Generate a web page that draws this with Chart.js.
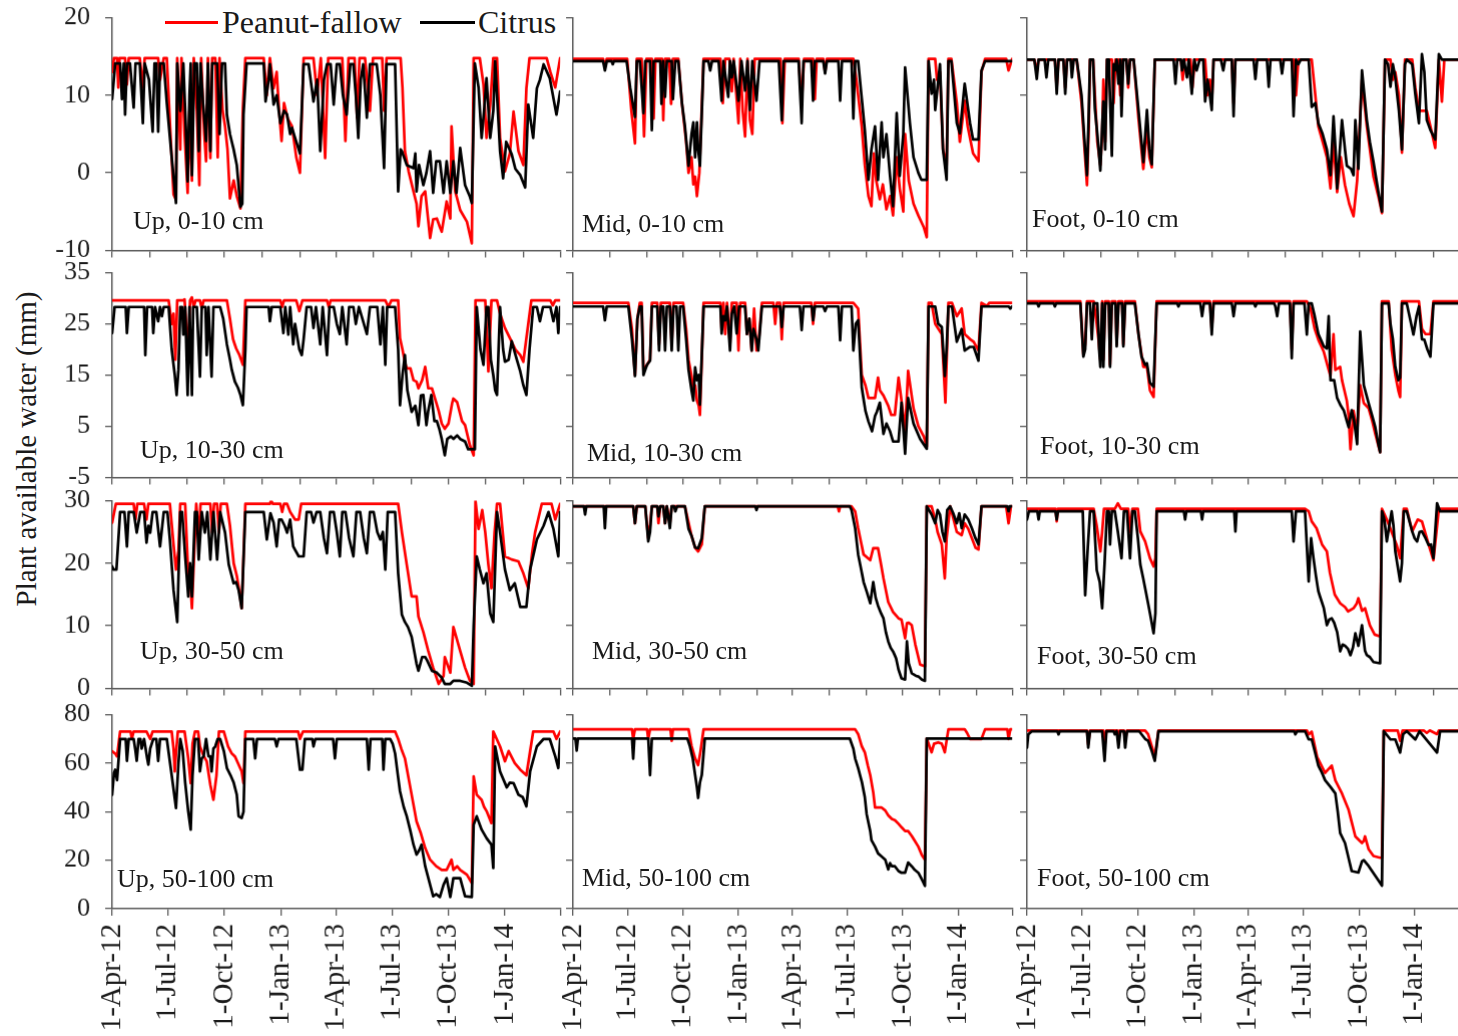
<!DOCTYPE html>
<html lang="en">
<head>
<meta charset="UTF-8">
<title>Plant available water</title>
<script src="https://cdn.jsdelivr.net/npm/chart.js@4.4.1/dist/chart.umd.min.js"></script>
<style>
  html, body { margin: 0; padding: 0; background: #fff; width: 1458px; height: 1036px; overflow: hidden; }
  body { position: relative; font-family: 'Liberation Serif', 'Times New Roman', serif; color: #1a1a1a; }
  canvas { position: absolute; }
  .lbl { position: absolute; font-size: 26px; line-height: 1; white-space: nowrap; }
  .leg { position: absolute; font-size: 32px; line-height: 1; white-space: nowrap; }
  .swatch { position: absolute; height: 3px; }
  .ytitle { position: absolute; left: 26px; top: 449px; font-size: 29px; line-height: 1; white-space: nowrap;
            transform: translate(-50%, -50%) rotate(-90deg); }
</style>
</head>
<body>
<div class="ytitle">Plant available water (mm)</div>
<div class="swatch" style="left:165px; top:21px; width:53px; background:#ff0000;"></div>
<div class="leg" style="left:222px; top:6px;">Peanut-fallow</div>
<div class="swatch" style="left:420px; top:21px; width:55px; background:#000;"></div>
<div class="leg" style="left:478px; top:6px;">Citrus</div>
<script>
// x values are days since 1-Apr-12
const bimonthDays = [0, 61, 122, 183, 244, 306, 365, 426, 487, 548, 609, 671, 730];
const quarterDays = [0, 91, 183, 275, 365, 456, 548, 640, 730];
const quarterLabels = ['1-Apr-12', '1-Jul-12', '1-Oct-12', '1-Jan-13', '1-Apr-13', '1-Jul-13', '1-Oct-13', '1-Jan-14', ''];

const yTicks = [[-10, 0, 10, 20], [-5, 5, 15, 25, 35], [0, 10, 20, 30], [0, 20, 40, 60, 80]];

const panelLabels = [
  ['Up, 0-10 cm', 'Mid, 0-10 cm', 'Foot, 0-10 cm'],
  ['Up, 10-30 cm', 'Mid, 10-30 cm', 'Foot, 10-30 cm'],
  ['Up, 30-50 cm', 'Mid, 30-50 cm', 'Foot, 30-50 cm'],
  ['Up, 50-100 cm', 'Mid, 50-100 cm', 'Foot, 50-100 cm']
];

// ---- 0-10 cm ----
const upPeanut010 = [[0,13],[3,14.8],[8,14.8],[10,11],[12,14.8],[21,14.8],[24,11.4],[27,14.8],[45,14.8],[50,11],[53,14.8],[75,14.8],[78,12],[84,14.8],[89,14.8],[95,5],[100,-2.8],[104,-3.5],[106,14.8],[111,3],[113,14.8],[118,5],[123,-2.6],[126,8],[130,-1],[133,14.8],[138,8],[142,-1.6],[145,14.8],[150,5],[153,1.5],[156,14.8],[160,1.9],[163,14.8],[168,14.8],[172,2],[175,14.8],[180,8],[184,6],[188,3],[192,-3.3],[198,-1],[203,-3],[209,-4.6],[213,8.4],[217,14.8],[247,14.8],[252,10],[257,14.8],[263,10.9],[268,13],[272,8],[276,4.1],[280,9],[286,7],[293,6],[300,2],[306,0],[312,14.8],[328,14.8],[334,10],[340,14.8],[347,1.9],[352,14.8],[375,14.8],[380,4.1],[385,14.8],[395,14.8],[399,7.1],[403,14.8],[412,14.8],[420,8],[425,14.8],[440,14.8],[443,8],[447,14.8],[470,14.8],[473,11],[477,2.8],[483,0.2],[491,-2.4],[496,-4],[499,-6.9],[504,-3],[510,-2.4],[518,-8.4],[523,-6],[529,-5.9],[534,-7],[537,-7.6],[545,-3.7],[551,-5.9],[553,6],[559,-2.4],[567,-4.8],[578,-6.3],[586,-9.1],[589,14.8],[599,14.8],[605,11.4],[610,4.5],[616,8.8],[621,14.8],[627,14.8],[632,4.5],[640,0.2],[648,2.5],[654,7.9],[662,2.8],[670,1],[675,10.9],[680,14.8],[708,14.8],[714,13],[722,11],[730,14.8]];
const upCitrus010 = [[0,9.5],[5,14.1],[13,14.1],[16,9.5],[19,14.1],[21,7.5],[24,14.1],[29,14.1],[35,8.4],[38,14.1],[45,14.1],[50,6.4],[53,14.1],[60,12],[66,5.3],[69,14.1],[72,14.1],[75,5.3],[78,14.1],[84,14.1],[89,9],[97,2],[104,-3.9],[106,14.1],[111,8],[116,14.1],[120,6],[123,-1.1],[126,10],[128,14.1],[130,-0.3],[134,14.1],[138,14.1],[141,2.8],[144,14.1],[148,9],[153,4.1],[156,14.1],[160,2.8],[163,14.1],[168,14.1],[171,14.1],[175,5],[179,14.1],[184,14.1],[187,7.5],[192,5],[198,3],[203,1],[209,-4.4],[212,-4],[214,7.5],[219,14.1],[247,14.1],[250,9.2],[255,12],[257,14],[263,8.8],[268,10],[274,6.4],[280,8],[285,7.5],[290,5],[293,5.8],[300,4],[306,2.5],[312,14],[320,14],[328,9.2],[334,12],[339,2.8],[345,12],[350,14],[356,14],[361,8.8],[366,14],[371,14],[376,10],[382,7.5],[388,14],[393,14],[397,10],[401,4.5],[405,12],[409,14],[415,7.1],[420,14],[431,14],[437,10],[443,0.6],[447,14],[461,14],[466,-2.4],[470,3],[472,2.8],[480,1],[491,0.6],[494,2.5],[496,-2.4],[500,1],[507,-1.6],[512,0],[518,2.8],[523,-2.6],[528,1.5],[534,1.5],[540,-2.6],[545,1.5],[551,-2.6],[556,1.5],[561,-2.6],[567,3.2],[575,-1.6],[583,-3.1],[586,-3.9],[591,14.1],[597,11],[602,4.5],[606,8],[610,12.2],[616,4.5],[621,8],[624,14.4],[632,2.8],[637,-0.7],[642,4],[651,2.4],[657,0.5],[665,-0.3],[673,-1.9],[678,8.8],[686,4.5],[692,10.9],[697,12],[703,14],[713,12.2],[724,7.5],[730,10.5]];
const midPeanut010 = [[0,14.7],[50,14.7],[53,13.6],[56,14.7],[90,14.7],[97,8],[103,3.8],[106,14.7],[114,14.7],[118,4.7],[122,14.7],[131,14.7],[134,7],[137,14.7],[148,14.7],[150,6.8],[153,14.7],[160,14.7],[163,8.9],[166,14.7],[175,14.7],[181,9],[188,4],[192,0],[197,2],[200,-1.5],[203,-0.5],[206,-3],[210,0],[217,14.7],[245,14.7],[249,9],[253,14.7],[260,14.7],[264,10.5],[267,14.7],[275,6.4],[278,14.7],[282,8],[286,4.7],[290,14.7],[294,6.8],[298,5],[302,14.7],[345,14.7],[348,6.4],[352,14.7],[375,14.7],[380,9],[384,14.7],[399,14.7],[402,9.5],[405,14.7],[416,14.7],[419,13],[422,14.7],[466,14.7],[471,12],[480,6],[485,1],[491,-3],[496,-4.3],[500,2.5],[504,-1],[510,-3.4],[515,-1.5],[521,-4.7],[527,-3],[532,-5.5],[538,2],[543,-2],[549,-5],[552,5],[558,-1],[566,-4],[574,-5.5],[583,-7],[588,-8.3],[591,14.7],[602,14.7],[605,12],[610,13],[615,3],[621,1],[624,14.7],[629,14.7],[638,9],[643,4],[651,9.3],[656,6],[665,2.5],[674,1.5],[679,13],[685,14.7],[720,14.7],[724,13.2],[730,14.7]];
const midCitrus010 = [[0,14.4],[50,14.4],[53,13.2],[56,14.4],[64,14.4],[66,14],[68,14.4],[89,14.4],[95,11],[103,7.2],[106,14.4],[111,14.4],[117,7.7],[120,14.4],[128,14.4],[131,5.5],[134,14.4],[145,14.4],[147,8.9],[150,14.4],[153,9.8],[156,14.4],[164,14.4],[166,9.5],[170,14.4],[175,14.4],[181,9],[186,6],[192,0.9],[197,5],[200,6.5],[203,2],[206,6.5],[208,3],[211,0.9],[217,14.4],[225,14.4],[228,13.2],[231,14.4],[242,14.4],[247,9.3],[250,14.4],[258,9.8],[261,14.4],[264,12.3],[267,14.4],[275,9.3],[280,14.4],[286,10.6],[290,14.4],[294,8.1],[298,14.4],[305,9.3],[310,14.4],[342,14.4],[347,6.8],[350,14.4],[375,14.4],[380,6.4],[383,14.4],[396,14.4],[399,9.3],[402,14.4],[416,14.4],[419,12.8],[422,14.4],[441,14.4],[444,9.3],[447,14.4],[463,14.4],[466,7],[469,14.4],[474,14.4],[485,5.5],[491,-0.9],[496,3],[502,6],[507,-0.9],[513,6.5],[516,2],[521,5],[527,-0.4],[532,-4.3],[538,7.7],[543,-0.4],[549,5],[552,13.6],[560,6.4],[566,2],[574,0],[579,-0.9],[588,-0.9],[591,14.4],[596,10.2],[600,12],[602,8.1],[610,14],[615,3],[621,-0.9],[624,14.4],[629,14.4],[638,6.4],[643,5.1],[651,11.5],[660,6.4],[665,4.3],[674,4.3],[679,13.2],[685,14.4],[730,14.4]];
const footPeanut010 = [[0,14.6],[12,14.6],[16,13],[19,14.6],[46,14.6],[49,11],[52,14.6],[60,14.6],[63,11],[66,14.6],[82,14.6],[90,9],[95,3],[99,-1.6],[102,6],[104,14.6],[109,14.6],[112,10],[116,4],[121,1],[124,5],[126,12],[129,4],[132,14.6],[140,14.6],[143,9],[146,14.6],[151,14.6],[154,10],[157,14.6],[164,14.6],[167,11],[170,14.6],[176,14.6],[184,7],[192,0.5],[198,6],[202,2],[206,0.7],[211,14.6],[254,14.6],[257,12],[260,14.6],[270,14.6],[273,11],[277,14.6],[294,14.6],[298,10],[302,12],[305,9],[308,14.6],[338,14.6],[341,9],[344,14.6],[440,14.6],[444,10],[448,14.6],[470,14.6],[476,10],[481,6],[488,4],[495,2],[501,-2],[506,4],[512,-2.5],[518,2],[525,-1.6],[532,-4],[539,-5.6],[545,-1],[553,12],[561,6],[572,-0.5],[580,-3],[586,-5.2],[591,14.6],[600,14.6],[604,12],[608,13],[614,10],[619,2.6],[624,14.6],[636,14.6],[641,11],[647,8],[660,8],[666,6],[674,3.2],[680,14.6],[685,9.2],[689,14.6],[730,14.6]];
const footCitrus010 = [[0,14.6],[12,14.6],[16,12.1],[19,14.6],[29,14.6],[32,12.3],[35,14.6],[46,14.6],[49,10.2],[52,14.6],[60,14.6],[63,10.2],[66,14.6],[72,14.6],[74,12.3],[77,14.6],[82,14.6],[90,10],[95,4],[99,-0.3],[102,8],[104,14.6],[109,14.6],[112,8.3],[116,5],[121,0.3],[124,6],[126,9.2],[129,3],[132,14.6],[135,14.6],[140,2.2],[143,14],[145,13.2],[148,14.6],[151,11.5],[154,14.6],[156,7.3],[159,14.6],[164,14.6],[167,11.5],[170,14.6],[176,14.6],[184,8.1],[192,1.4],[198,8.1],[202,3],[206,1.1],[211,14.6],[242,14.6],[245,11.5],[248,14.6],[254,14.6],[256,13.2],[259,14.6],[264,12.3],[267,14.6],[272,10.2],[276,14.6],[280,13.2],[285,14.6],[291,14.6],[294,9.2],[298,12],[300,11.1],[305,8.1],[308,14.6],[320,14.6],[324,13.2],[327,14.6],[338,14.6],[341,7.3],[344,14.6],[374,14.6],[377,12.1],[380,14.6],[396,14.6],[399,11.1],[402,14.6],[418,14.6],[421,12.8],[424,14.6],[437,14.6],[440,7.3],[444,14.6],[448,14],[452,14.6],[465,14.6],[470,8.5],[476,9],[481,6.4],[488,5],[495,3],[501,-0.3],[506,7.3],[510,2],[512,-2],[520,6.8],[525,3],[528,0.9],[535,0.5],[539,-0.3],[542,6.8],[547,0.5],[553,13.2],[561,6.8],[566,4],[572,1.4],[580,-2.4],[586,-5],[591,14.6],[596,14],[600,11.1],[604,14],[608,12.3],[614,8],[619,3],[624,14],[627,14.6],[636,14],[641,10.2],[647,6.4],[652,15.3],[656,13],[660,6.8],[666,5.5],[674,4.3],[680,15.3],[685,14.6],[730,14.6]];

// ---- 10-30 cm ----
const upPeanut1030 = [[0,29.6],[92,29.6],[97,25],[100,27],[103,18],[106,29.6],[116,29.6],[118,29.8],[121,24],[124,20.2],[127,29.6],[130,30.2],[133,28.3],[136,29.6],[143,29.6],[146,28],[149,29.6],[187,29.6],[192,26],[197,22],[202,20.2],[207,19],[213,17],[217,29.6],[274,29.6],[277,28.3],[280,29.6],[300,29.6],[305,27.5],[310,29.6],[350,29.6],[353,28.3],[356,29.6],[445,29.6],[450,28.3],[455,29.6],[466,29.6],[469,22.2],[473,20],[477,17.5],[480,16.3],[486,16.3],[491,14],[496,13.7],[499,12.4],[505,14],[510,16.6],[515,12.4],[521,12.4],[526,10.4],[532,8],[537,5.5],[542,4.5],[548,5.5],[554,9.5],[556,10.4],[562,9.7],[570,6],[575,5.2],[583,1.2],[589,-0.7],[592,29.6],[608,29.6],[613,15.7],[618,29.6],[627,29.6],[632,27],[640,24.2],[649,22],[657,20],[665,18.9],[670,17.6],[678,25],[683,29.6],[714,29.6],[718,28.6],[722,29.6],[730,29.6]];
const upCitrus1030 = [[0,23.2],[4,28.3],[22,28.3],[24,23.2],[27,28.3],[52,28.3],[54,18.9],[57,28.3],[65,28.3],[67,23.2],[70,28.3],[75,25.5],[78,28.3],[81,26.5],[84,28.3],[92,28.3],[97,20],[102,15],[105,11.1],[108,16],[111,28.3],[114,28.3],[116,22.9],[119,28.3],[123,11.1],[126,28.3],[130,11.1],[132,28.3],[138,28.3],[143,14.7],[146,28.3],[152,28.3],[154,18.9],[157,28.3],[162,14.7],[165,28.3],[176,28.3],[181,26],[187,21],[192,18],[195,16],[200,13.7],[205,12.5],[209,11.1],[213,9.1],[217,20],[219,28.3],[255,28.3],[257,25.5],[260,28.3],[274,28.3],[279,23.2],[282,28.3],[287,22.9],[290,28.3],[295,21],[298,25],[305,20],[309,18.9],[312,22],[317,28.3],[324,28.3],[328,24.2],[332,28.3],[339,21],[343,28.3],[350,18.9],[354,28.3],[361,28.3],[366,25],[371,23],[375,28.3],[382,21],[386,28.3],[393,28.3],[397,25],[402,28.3],[415,23],[420,28.3],[432,28.3],[437,21],[441,28.3],[445,17],[448,28.3],[461,28.3],[466,20],[469,9.1],[473,15],[477,18.9],[481,12],[488,7.8],[494,9],[499,5.2],[503,11],[507,11.1],[512,5.2],[515,8],[520,11.1],[525,6],[529,6],[533,4.5],[537,2.5],[542,-0.7],[546,2.5],[552,3],[556,2.5],[562,3.2],[567,2.5],[575,2],[580,0.5],[591,0.5],[594,28.3],[600,20],[605,17],[610,28.3],[613,28.3],[617,18],[621,15],[624,12],[627,11.1],[632,28.3],[637,20],[640,17.6],[646,18],[651,21.6],[657,19],[665,15.7],[670,13],[675,11.1],[680,20],[686,28.3],[692,28.3],[697,25.5],[702,28.3],[714,28.3],[719,25.5],[724,28.3],[727,23.2],[730,28.3]];
const midPeanut1030 = [[0,29.1],[92,29.1],[98,24],[103,15],[107,26],[111,29.1],[114,29.1],[117,16],[123,17],[128,18],[131,29.1],[140,29.1],[143,21],[146,29.1],[161,29.1],[164,21],[167,29.1],[183,29.1],[188,24],[192,18],[197,14.8],[200,12],[203,13],[206,10],[209,9],[211,7.2],[217,29.1],[245,29.1],[247,24],[250,29.1],[253,23],[256,29.1],[261,21],[264,29.1],[272,29.1],[275,19.8],[278,29.1],[286,29.1],[289,23],[293,26],[297,19.8],[301,28],[305,19.8],[309,22],[314,29.1],[333,29.1],[336,25],[339,29.1],[344,29.1],[347,22],[350,29.1],[396,29.1],[399,25],[402,29.1],[466,29.1],[474,28],[480,15],[486,13],[491,10.5],[497,10.5],[502,10.5],[507,14.5],[510,12],[516,11],[524,9],[529,7.2],[535,7.2],[541,14.5],[546,10],[552,4],[557,15.8],[566,8.5],[574,5],[583,3],[588,1],[591,29.1],[596,29.1],[602,25],[613,23],[619,9.6],[624,29.1],[630,29.1],[638,26.5],[646,28],[651,23],[660,22],[666,21.5],[674,19.8],[679,29.1],[688,28.5],[692,29.1],[730,29.1]];
const midCitrus1030 = [[0,28.4],[50,28.4],[53,25.7],[56,28.4],[92,28.4],[98,22],[103,14.8],[107,26],[111,28.4],[114,28.4],[117,15],[120,16],[123,17],[128,17.8],[131,28.4],[140,28.4],[143,19.8],[146,28.4],[150,28.4],[153,19.8],[156,28.4],[161,28.4],[164,19.8],[167,28.4],[172,28.4],[175,19.8],[178,28.4],[183,28.4],[188,22],[192,16],[197,12],[200,10],[203,16.5],[206,14],[209,15],[211,9.2],[217,28.4],[245,28.4],[247,23.1],[250,26.5],[253,25.7],[256,28.4],[261,19.8],[264,27],[268,28.4],[272,23.1],[276,28.4],[286,28.4],[289,23],[293,26],[297,19.8],[300,24],[305,22],[308,19.8],[311,24],[314,28.4],[344,28.4],[347,24.4],[350,28.4],[377,28.4],[380,23.8],[383,28.4],[397,28.4],[399,25.7],[402,28.4],[416,28.4],[419,27.5],[422,28.4],[441,28.4],[444,21.8],[447,28.4],[463,28.4],[466,19.8],[470,25],[474,25.7],[480,12.5],[486,8],[491,5.9],[497,4],[502,7],[505,7.8],[510,9.6],[516,3.5],[521,5.5],[527,4],[532,2],[541,2],[546,9.6],[552,-0.4],[557,10.5],[566,5.5],[577,2.5],[588,0.6],[591,28.4],[602,28.4],[607,25],[613,24.4],[618,14.8],[621,20],[624,28.4],[630,28.4],[638,21.5],[646,24],[651,19.8],[660,20.5],[666,20.5],[674,17.8],[679,28.4],[724,28.4],[727,28],[730,28.4]];
const footPeanut1030 = [[0,29.4],[88,29.4],[93,19],[96,21],[99,29.4],[110,29.4],[114,26],[118,21.9],[121,18],[124,29.4],[126,18],[129,29.4],[135,29.4],[137,17],[140,29.4],[146,29.4],[148,21],[151,29.4],[157,29.4],[159,21],[162,29.4],[178,29.4],[184,23],[192,16.6],[198,16.6],[203,12],[209,10.7],[214,29.4],[302,29.4],[305,24],[308,29.4],[434,29.4],[437,20],[440,29.4],[462,29.4],[468,28],[475,24],[481,21.9],[490,19.5],[498,16],[501,14.8],[506,23],[509,16],[517,16.6],[520,14],[528,10],[531,7],[534,0.5],[539,8],[545,4],[550,13],[556,9.5],[564,8.5],[570,6],[575,3.5],[583,-0.1],[586,29.4],[597,29.4],[602,20],[608,15],[613,12],[616,10.7],[619,29.4],[647,29.4],[652,24],[658,23],[666,23],[671,29.4],[730,29.4]];
const footCitrus1030 = [[0,29],[17,29],[19,28.4],[21,29],[44,29],[46,28.4],[48,29],[88,29],[93,18.6],[96,20],[99,29],[104,29],[107,22],[110,29],[116,29],[119,20],[121,16.6],[124,29],[126,16.6],[129,29],[135,29],[137,16.6],[140,29],[146,29],[148,20.6],[151,29],[157,29],[159,20.6],[162,29],[178,29],[184,23],[189,18.6],[195,17],[198,17.3],[203,13.5],[209,12.7],[214,29],[248,29],[250,28.4],[252,29],[286,29],[289,26.5],[292,29],[302,29],[305,22.9],[308,29],[338,29],[341,26.5],[344,29],[375,29],[377,28.4],[379,29],[408,29],[410,28.4],[413,26.5],[416,29],[434,29],[437,18.3],[440,29],[458,29],[462,22.9],[465,29],[470,29],[475,26.5],[481,23],[490,20.6],[495,20.2],[498,26.5],[501,14],[507,14],[512,10.5],[518,9],[523,8.1],[528,6],[531,4.8],[536,8.1],[540,6],[545,1.5],[550,23.5],[556,13],[564,9.5],[570,7],[575,4.8],[580,1.5],[583,-0.1],[586,29],[597,29],[600,25],[604,22],[608,16.6],[613,14],[616,14.5],[619,29],[627,29],[633,25.7],[638,22.9],[643,26.5],[647,28.4],[652,22],[656,21.9],[661,20],[666,18.6],[671,29],[730,29]];

// ---- 30-50 cm ----
const upPeanut3050 = [[0,26.5],[3,28],[6,29.5],[35,29.5],[38,27],[41,29.5],[52,29.5],[56,27],[59,29.5],[94,29.5],[100,23],[104,19],[108,22],[111,29.5],[119,29.5],[124,18],[128,16],[130,12.8],[133,20],[137,29.5],[141,24],[144,29.5],[160,29.5],[163,24.9],[166,29.5],[171,29.5],[174,24.9],[177,29.5],[187,29.5],[192,26],[198,20],[203,18],[208,15],[211,12.8],[217,29.5],[257,29.5],[259,30],[262,29.5],[274,29.5],[277,28.2],[280,29.5],[285,29.5],[290,28.2],[298,27],[304,27],[308,29.5],[466,29.5],[472,25],[480,19.8],[488,14.7],[496,14.7],[499,11.5],[507,9],[515,6],[523,3.3],[532,0.7],[540,2],[542,5],[551,2.5],[556,9.8],[567,6],[575,3.3],[583,1.2],[589,0.7],[592,30],[597,25.5],[603,28.5],[608,24.9],[613,19.8],[618,16],[623,24.9],[627,29.5],[632,29.5],[640,21.1],[651,20.6],[662,20.3],[670,18.4],[678,16],[684,21.5],[689,24.9],[700,29.5],[716,29.5],[722,27],[730,29.5]];
const upCitrus3050 = [[0,19.5],[2,19],[7,19],[13,28.2],[20,28.2],[24,22.7],[27,28.2],[35,28.2],[40,24.9],[46,28.2],[52,28.2],[56,23.3],[59,26],[62,24.9],[66,28.2],[72,28.2],[78,22.7],[84,28.2],[90,28.2],[94,23.8],[100,15.7],[106,10.6],[111,28.2],[114,28.2],[119,21.1],[124,14.7],[127,20],[130,14.7],[135,28.2],[138,28.2],[141,20.6],[146,28.2],[151,24.9],[155,28.2],[160,20.6],[165,28.2],[171,20.6],[176,28.2],[184,24.9],[190,19.8],[198,16.8],[202,17],[206,15.7],[211,12.8],[217,28.2],[247,28.2],[252,23.8],[258,28],[263,26.5],[268,22.7],[272,27],[276,27],[281,26],[285,24.9],[290,27],[295,22.7],[304,21.1],[312,21.1],[317,28.2],[324,28.2],[328,26.5],[333,28.2],[339,28.2],[345,24],[350,21.6],[355,28.2],[361,28.2],[366,25],[371,21.1],[375,28.2],[380,28.2],[386,24],[393,21.1],[398,28.2],[404,28.2],[410,24],[415,21.6],[420,28.2],[426,28.2],[432,25],[437,23.8],[441,25],[445,19],[449,28.2],[461,28.2],[466,18.4],[472,11.8],[477,10.6],[482,9.8],[488,8.2],[496,3.9],[499,2.8],[505,5],[510,5],[513,4.5],[521,2.8],[529,2.5],[537,1.7],[542,0.7],[551,0.7],[556,1.2],[567,1.2],[578,0.9],[586,0.4],[589,10],[594,21.1],[599,19],[605,16.8],[610,18.4],[616,12],[621,10.6],[627,28.2],[632,24.9],[640,19],[648,15.7],[656,16.8],[665,13],[675,13],[681,19],[692,23.8],[703,26],[711,28.2],[719,25.5],[727,21.1],[730,28.2]];
const midPeanut3050 = [[0,29.1],[100,29.1],[103,26.4],[106,29.1],[120,29.1],[125,24],[128,26],[131,29.1],[140,29.1],[142,26.4],[145,29.1],[150,29.1],[153,26.4],[156,29.1],[161,26.4],[164,29.1],[186,29.1],[192,26.5],[197,24.4],[203,22.5],[208,21.9],[214,23],[219,29.1],[440,29.1],[442,28.3],[444,29.1],[463,29.1],[469,28.3],[474,25.6],[483,21.4],[494,20.5],[499,22.4],[503,22.4],[507,22.4],[512,19.8],[516,17.6],[524,13.8],[532,12.2],[541,11.2],[546,11],[552,8],[555,10.4],[558,10.5],[563,10.1],[569,7],[577,3.8],[585,3.5],[588,29.1],[596,29.1],[602,27],[606,25],[613,23],[618,17.6],[621,24],[627,29.1],[638,25],[646,24.5],[651,26.4],[657,25.5],[669,22.5],[674,22.2],[679,29.1],[720,29.1],[724,26.4],[728,29.1],[730,29.1]];
const midCitrus3050 = [[0,29.1],[18,29.1],[20,27.8],[22,29.1],[51,29.1],[53,25.6],[55,29.1],[100,29.1],[103,26.4],[106,29.1],[120,29.1],[125,23.5],[128,25],[131,29.1],[140,29.1],[142,27.5],[145,29.1],[150,29.1],[153,26.4],[156,29.1],[161,25.6],[164,29.1],[168,29.1],[170,28.3],[173,29.1],[186,29.1],[192,25.5],[197,24.4],[203,22.5],[208,22.4],[214,24],[219,29.1],[303,29.1],[305,28.5],[307,29.1],[460,29.1],[463,28.5],[469,25.6],[474,21.4],[478,19.5],[483,17],[488,15.5],[494,13.6],[499,17],[503,14.5],[507,13.2],[512,12],[516,11.2],[520,9],[524,7.5],[528,6.5],[532,5.9],[537,4.8],[541,3],[546,1.6],[552,1.4],[555,7.5],[558,4],[563,2.4],[570,2],[574,1.9],[580,1.4],[585,1.2],[588,29.1],[596,27.8],[602,26.4],[606,28.5],[610,27.8],[614,25],[618,23.5],[622,28.5],[627,29.1],[632,28],[638,26.4],[642,28],[646,25.6],[651,27.8],[657,27],[663,25.6],[669,24],[674,23],[679,29.1],[722,29.1],[724,28.3],[726,29.1],[730,29.1]];
const footPeanut3050 = [[0,28.7],[47,28.7],[49,26.7],[51,28.7],[110,28.7],[115,26],[121,21.9],[124,25],[127,28.7],[145,28.7],[150,29.6],[155,28.7],[167,28.7],[170,25],[174,28.7],[183,28.7],[187,25.1],[195,23.5],[203,20.8],[209,19.5],[212,20.8],[214,28.7],[459,28.7],[465,28.3],[470,26.7],[478,25.6],[487,23],[495,21.9],[500,18.5],[508,15],[517,13.6],[525,13],[530,12.3],[539,12.8],[544,13.5],[547,14.4],[553,12.4],[558,12.8],[566,10.1],[574,8.6],[583,8.3],[586,28.7],[594,27],[602,25],[610,23],[616,20.8],[622,28.7],[627,28.7],[636,25.1],[645,27],[652,26.7],[663,23],[671,20.5],[680,28.7],[730,28.7]];
const footCitrus3050 = [[0,27],[3,28.3],[17,28.3],[19,27],[21,28.3],[47,28.3],[49,27],[51,28.3],[92,28.3],[96,14.9],[100,22],[104,28.3],[110,28.3],[115,18.9],[120,17],[124,12.8],[128,20],[132,28.3],[135,28.3],[137,23],[140,28.3],[145,28.3],[150,25],[156,20.8],[160,28.3],[165,28.3],[170,20.8],[174,28.3],[178,28.3],[183,24],[187,19.8],[192,17.5],[195,16],[200,13.5],[203,12],[209,8.8],[212,12],[214,28.3],[259,28.3],[261,27],[263,28.3],[287,28.3],[289,27],[291,28.3],[342,28.3],[344,25.1],[346,28.3],[437,28.3],[440,23.5],[444,28.3],[459,28.3],[465,17.1],[469,24],[473,20.8],[477,18],[481,15.5],[486,14],[490,12.8],[495,10.1],[499,11],[503,11.2],[507,10.5],[512,9],[517,5.9],[521,7],[525,6.8],[530,6.3],[534,5.3],[538,6.5],[542,8.8],[547,6.8],[553,10.1],[558,6],[561,5.3],[566,5],[572,4.2],[583,4],[586,28.3],[590,27],[594,23.5],[598,26],[602,28.3],[605,26],[608,21.9],[612,19.5],[616,17.1],[619,20],[622,28.3],[627,28.3],[632,26.5],[636,25.1],[640,24],[644,23.5],[648,25],[652,25.1],[658,24],[663,22.9],[667,23],[671,20.8],[677,29.6],[682,28.3],[730,28.3]];

// ---- 50-100 cm ----
const upPeanut50100 = [[0,64.9],[5,64],[8,62.8],[13,73.1],[30,73.1],[32,70],[35,73.1],[56,73.1],[62,70],[66,73.1],[97,73.1],[100,66],[102,56.6],[104,64],[107,73.1],[118,73.1],[124,62],[128,51.8],[131,68],[135,73.1],[140,73.1],[143,66.9],[149,63],[154,60.8],[160,51],[165,44.9],[170,55],[174,73.1],[182,73.1],[189,66.9],[195,64],[200,62.8],[205,60],[211,56.6],[214,51.8],[217,73.1],[303,73.1],[306,70],[311,73.1],[461,73.1],[466,70],[471,66],[477,62],[481,56.6],[488,47],[496,36],[503,31],[510,25],[518,20.2],[528,17.5],[537,16],[545,16],[553,20.2],[556,16],[562,17.5],[567,16],[578,14],[586,10.5],[589,54.6],[594,47],[602,44.9],[606,42],[610,40.3],[618,35.3],[621,73.1],[632,66.9],[640,60.8],[646,65],[656,60],[665,57.3],[675,55],[686,73.1],[719,73.1],[724,70],[730,73.1]];
const upCitrus50100 = [[0,47],[3,56],[5,57.3],[8,53],[13,70],[22,70],[24,61],[27,70],[33,70],[35,70],[38,65],[40,61],[43,70],[46,70],[48,66],[52,70],[57,62],[59,59.4],[62,66],[67,70],[72,70],[75,61],[78,70],[89,70],[97,55],[104,41.5],[108,60],[111,70],[115,65],[119,52],[124,40],[128,32.6],[131,55],[135,70],[140,70],[143,56.6],[146,62],[149,62.8],[153,70],[157,62.8],[160,62.8],[162,56.6],[165,66],[168,66.9],[172,70],[176,70],[182,65],[187,58],[193,55],[198,52],[203,47],[206,38.1],[211,37.4],[214,40],[217,70],[230,70],[233,62],[236,70],[265,70],[268,66.9],[271,70],[300,70],[306,57.3],[310,57.3],[314,70],[326,70],[328,66.9],[331,70],[360,70],[363,62],[366,70],[415,70],[418,57.3],[421,70],[440,70],[442,57.3],[445,70],[453,70],[457,68],[461,64],[465,56],[469,48.4],[475,42],[480,38.1],[486,32],[491,26.4],[496,22.3],[500,24],[504,26.4],[510,17.5],[518,9.9],[523,5.1],[528,6],[534,4.8],[540,9.9],[545,12.6],[551,4.8],[556,12.6],[567,12.6],[575,5.1],[586,4.8],[589,34.6],[594,38.1],[602,32.6],[610,29.1],[618,26.4],[621,16.8],[624,66.9],[632,56.6],[643,50],[648,52],[654,51.8],[662,47],[669,46],[675,42.2],[681,56.6],[692,66.9],[703,70],[713,70],[722,62.8],[727,58],[730,70]];
const midPeanut50100 = [[0,74],[98,74],[100,70],[103,74],[123,74],[125,70],[128,74],[162,74],[164,69.2],[166,74],[192,74],[197,67.2],[203,62],[208,59.2],[212,65],[217,74],[466,74],[469,74],[474,72],[480,67],[485,64.5],[490,59],[494,55.1],[499,48],[502,41.7],[508,41.7],[513,41.7],[519,40.5],[524,38.5],[530,37],[535,36.5],[541,35],[546,33.6],[552,32],[557,32],[563,30],[568,28],[574,25.6],[580,22],[585,20.2],[588,70.2],[596,64.5],[600,68],[607,68.6],[613,68],[618,64.5],[624,74],[651,74],[655,72.5],[660,70],[667,70],[679,70],[685,74],[722,74],[724,70],[727,74],[730,74]];
const midCitrus50100 = [[0,70.2],[4,70.2],[6,65.2],[8,70.2],[98,70.2],[100,61.9],[102,70.2],[125,70.2],[128,55.1],[131,70.2],[190,70.2],[194,67.2],[199,62],[203,55.1],[206,50],[208,45.7],[211,52],[214,55.1],[219,70.2],[460,70.2],[466,66],[469,61.9],[474,58],[480,52.4],[485,46],[488,39],[494,32],[496,28.3],[502,25.6],[507,22.8],[513,21.5],[519,20.2],[524,16.2],[527,18.8],[530,17.5],[535,17.5],[541,15.5],[546,14.8],[552,14.8],[557,19],[563,17.5],[568,16],[574,14.8],[580,12],[585,9.4],[588,70.2],[730,70.2]];
const footPeanut50100 = [[0,73.5],[99,73.5],[101,67.8],[104,73.5],[126,73.5],[128,66.4],[131,73.5],[149,73.5],[151,69.2],[153,73.5],[160,73.5],[162,69.2],[165,73.5],[195,73.5],[200,71.9],[206,67],[211,62.5],[217,73.5],[462,73.5],[465,71.9],[470,73],[479,62.5],[492,56],[503,59],[509,52.9],[520,47.5],[531,40.7],[542,29.8],[553,27.1],[556,28],[558,29.8],[564,24.5],[572,21.7],[583,21],[586,21],[589,73.5],[612,73.5],[616,69.2],[620,73.5],[655,73.5],[660,72.5],[665,73.5],[677,72],[680,73.5],[730,73.5]];
const footCitrus50100 = [[0,66.4],[2,71.9],[8,73.2],[50,73.2],[52,71.9],[54,73.2],[99,73.2],[101,66.4],[104,73.2],[124,73.2],[128,61],[131,73.2],[143,73.2],[145,71.9],[148,73.2],[151,66.4],[154,73.2],[160,73.2],[162,66.4],[165,73.2],[170,73.2],[185,73.2],[195,70],[200,69.2],[206,65],[211,61],[217,73.2],[441,73.2],[443,71.9],[446,73.2],[459,73.2],[465,69.8],[470,69.8],[476,64],[481,59],[487,56],[492,53],[501,50.2],[509,47.5],[513,40],[517,31.2],[525,27.1],[536,15.5],[547,14.9],[553,19.5],[556,20],[564,17.6],[575,13.5],[586,9.5],[589,73.2],[600,69.8],[608,69.8],[616,64.4],[621,72],[627,73.2],[641,69.8],[648,73.2],[677,64.4],[682,73.2],[730,73.2]];

const panelSeries = [
  [[upPeanut010, upCitrus010], [midPeanut010, midCitrus010], [footPeanut010, footCitrus010]],
  [[upPeanut1030, upCitrus1030], [midPeanut1030, midCitrus1030], [footPeanut1030, footCitrus1030]],
  [[upPeanut3050, upCitrus3050], [midPeanut3050, midCitrus3050], [footPeanut3050, footCitrus3050]],
  [[upPeanut50100, upCitrus50100], [midPeanut50100, midCitrus50100], [footPeanut50100, footCitrus50100]]
];

// page layout (pixels)
const colLeft = [112, 573, 1027];
const colWidth = [448, 439, 442];
const rowTop = [18, 273, 501, 715];
const rowHeight = [232, 204, 187, 194];
const labelPos = [
  [[133, 230], [582, 233], [1032, 228]],
  [[140, 459], [587, 462], [1040, 455]],
  [[140, 660], [592, 660], [1037, 665]],
  [[117, 888], [582, 887], [1037, 887]]
];

const FONT = "'Liberation Serif', 'Times New Roman', serif";
const axisColor = '#5a5a5a';

function buildConfig(r, c, yW, xH) {
  const [peanut, citrus] = panelSeries[r][c];
  const xTicks = r === 3 ? quarterDays : bimonthDays;
  const yt = yTicks[r];
  return {
    type: 'line',
    data: {
      datasets: [
        { label: 'Peanut-fallow', data: peanut, borderColor: '#ff0000', borderWidth: 2.7, pointRadius: 0,
          borderJoinStyle: 'round', borderCapStyle: 'round', order: 2 },
        { label: 'Citrus', data: citrus, borderColor: '#000000', borderWidth: 2.7, pointRadius: 0,
          borderJoinStyle: 'round', borderCapStyle: 'round', order: 1 }
      ]
    },
    options: {
      responsive: false,
      maintainAspectRatio: false,
      animation: false,
      events: [],
      layout: { padding: { top: 16, right: 24, left: 0, bottom: 0 } },
      plugins: { legend: { display: false }, tooltip: { enabled: false } },
      scales: {
        x: {
          type: 'linear', min: 0, max: 730,
          afterBuildTicks: (axis) => { axis.ticks = xTicks.map(v => ({ value: v })); },
          afterFit: (scale) => { scale.height = xH; },
          ticks: {
            autoSkip: false, minRotation: 90, maxRotation: 90, padding: 8,
            font: { family: FONT, size: 29 }, color: '#1a1a1a',
            callback: (v, i) => (r === 3 ? quarterLabels[i] : '')
          },
          grid: { drawOnChartArea: false, drawTicks: true, tickLength: 7, color: axisColor, lineWidth: 1.3 },
          border: { display: true, color: axisColor, width: 1.5 }
        },
        y: {
          min: yt[0], max: yt[yt.length - 1],
          afterBuildTicks: (axis) => { axis.ticks = yt.map(v => ({ value: v })); },
          afterFit: (scale) => { scale.width = yW; },
          ticks: {
            padding: 15, font: { family: FONT, size: 26 }, color: '#1a1a1a',
            callback: (v) => (c === 0 ? String(v) : '')
          },
          grid: { drawOnChartArea: false, drawTicks: true, tickLength: 7, color: axisColor, lineWidth: 1.3 },
          border: { display: true, color: axisColor, width: 1.5 }
        }
      }
    }
  };
}

function makePanel(r, c) {
  const yW = c === 0 ? 100 : 30;
  const xH = r === 3 ? 130 : 16;
  let w = yW + colWidth[c] + 24;
  let h = 16 + rowHeight[r] + xH;

  // first pass: measure how much room the scales take
  const probe = document.createElement('canvas');
  probe.width = w; probe.height = h;
  probe.style.left = '0px'; probe.style.top = '0px';
  document.body.appendChild(probe);
  const test = new Chart(probe, buildConfig(r, c, yW, xH));
  const ca = test.chartArea;
  w += colWidth[c] - (ca.right - ca.left);
  h += rowHeight[r] - (ca.bottom - ca.top);
  test.destroy();
  probe.remove();

  // second pass: canvas sized so the plot box lands on the target spot
  const canvas = document.createElement('canvas');
  canvas.width = w; canvas.height = h;
  canvas.style.width = w + 'px';
  canvas.style.height = h + 'px';
  document.body.appendChild(canvas);
  const chart = new Chart(canvas, buildConfig(r, c, yW, xH));
  canvas.style.left = (colLeft[c] - chart.chartArea.left) + 'px';
  canvas.style.top = (rowTop[r] - chart.chartArea.top) + 'px';

  const lbl = document.createElement('div');
  lbl.className = 'lbl';
  lbl.textContent = panelLabels[r][c];
  lbl.style.left = labelPos[r][c][0] + 'px';
  lbl.style.top = (labelPos[r][c][1] - 22) + 'px';
  document.body.appendChild(lbl);
}

for (let r = 0; r < 4; r++) {
  for (let c = 0; c < 3; c++) {
    makePanel(r, c);
  }
}
</script>
</body>
</html>
